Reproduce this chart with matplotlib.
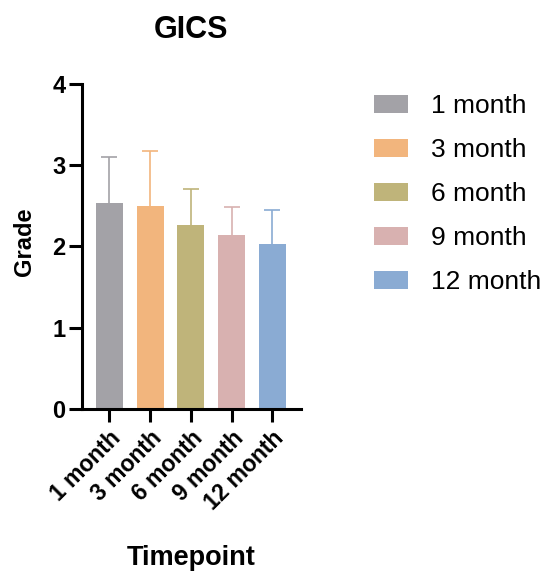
import matplotlib
matplotlib.use("Agg")
import matplotlib.pyplot as plt
from matplotlib.patches import Patch

plt.rcParams['font.family'] = ['Liberation Sans', 'DejaVu Sans']

categories = ["1 month", "3 month", "6 month", "9 month", "12 month"]
means = [2.53, 2.50, 2.26, 2.14, 2.03]
sds = [0.57, 0.68, 0.45, 0.34, 0.42]
colors = ["#A3A2A7", "#F2B57D", "#BFB47A", "#D8B1B0", "#8AABD3"]

fig = plt.figure(figsize=(5.42, 5.71), dpi=100)
ax = fig.add_axes([0.1507, 0.2837, 0.555 - 0.1507, 0.853 - 0.2837])

x = list(range(len(categories)))
ax.bar(x, means, width=0.66, color=colors, zorder=2)
for xi, m, s, c in zip(x, means, sds, colors):
    eb = ax.errorbar(xi, m, yerr=[[0], [s]], fmt='none', ecolor=c, elinewidth=1.2,
                     capsize=5.5, capthick=1.2, zorder=1)
    eb[1][0].set_visible(False)

ax.set_xlim(-0.68, 4.70)
ax.set_ylim(0, 4)
ax.set_yticks([0, 1, 2, 3, 4])
ax.set_xticks(x)
ax.set_xticklabels(categories, rotation=45, ha='right', rotation_mode='anchor',
                   fontsize=16.5, fontweight='bold')
for lbl in ax.get_yticklabels():
    lbl.set_fontweight('bold')
ax.tick_params(axis='y', labelsize=17, width=2.2, length=9.5, pad=2)
ax.tick_params(axis='x', width=2.2, length=9.5, pad=3)
for side in ['top', 'right']:
    ax.spines[side].set_visible(False)
for side in ['left', 'bottom']:
    ax.spines[side].set_linewidth(2.2)
ax.spines['bottom'].set_bounds(-0.68, 4.70)

ax.set_ylabel("Grade", fontsize=17, fontweight='bold')
fig.text(25 / 542, 1 - 242 / 571, "Grade", fontsize=17, fontweight='bold',
         ha='center', va='center', rotation=90)
ax.yaxis.label.set_visible(False)
fig.text(191 / 542, 1 - 558 / 571, "Timepoint", fontsize=19.5, fontweight='bold',
         ha='center', va='center')
fig.text(191 / 542, 1 - 30 / 571, "GICS", fontsize=22, fontweight='bold',
         ha='center', va='center')

handles = [Patch(facecolor=c, edgecolor='none') for c in colors]
fig.legend(handles, categories, loc='upper left', bbox_to_anchor=(374 / 542, 1 - 94 / 571),
           frameon=False, fontsize=19, handlelength=1.3, handleheight=0.65,
           handletextpad=0.85, labelspacing=0.76, borderaxespad=0, borderpad=0)

fig.savefig("out.png", dpi=100)
